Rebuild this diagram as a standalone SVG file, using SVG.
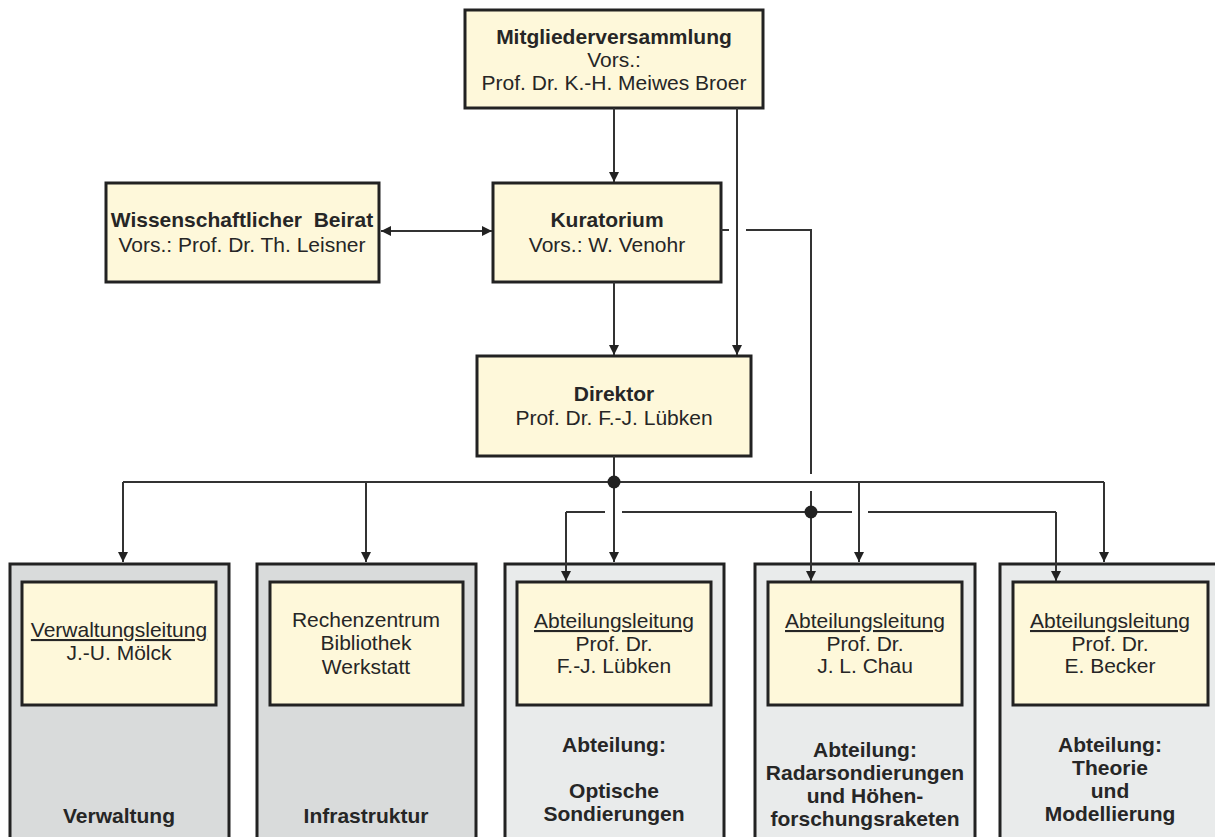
<svg xmlns="http://www.w3.org/2000/svg" width="1215" height="837" viewBox="0 0 1215 837">
<style>
text{font-family:"Liberation Sans",Arial,sans-serif;font-size:21px;fill:#262626;text-anchor:middle}
.b{font-weight:bold}
.u{text-decoration:underline}
.box{fill:#fef8da;stroke:#222;stroke-width:3}
.og{fill:#d9dbdb;stroke:#222;stroke-width:3}
.ol{fill:#e9ebeb;stroke:#222;stroke-width:3}
.c{fill:none;stroke:#333;stroke-width:2}
</style>
<defs>
<marker id="ah" markerUnits="userSpaceOnUse" markerWidth="10" markerHeight="10" refX="10" refY="5" orient="auto-start-reverse" viewBox="0 0 10 10">
<path d="M0,0 L10,5 L0,10 z" fill="#222"/>
</marker>
</defs>

<g id="mitglieder">
<rect class="box" x="465" y="10" width="298" height="98"/>
<text x="614" y="44" class="b">Mitgliederversammlung</text>
<text x="614" y="67">Vors.:</text>
<text x="614" y="90">Prof. Dr. K.-H. Meiwes Broer</text>
</g>

<g id="beirat">
<rect class="box" x="106" y="183" width="273" height="99"/>
<text x="242" y="227" class="b" xml:space="preserve">Wissenschaftlicher  Beirat</text>
<text x="242" y="252">Vors.: Prof. Dr. Th. Leisner</text>
</g>

<g id="kuratorium">
<rect class="box" x="493" y="183" width="228" height="99"/>
<text x="607" y="227" class="b">Kuratorium</text>
<text x="607" y="252">Vors.: W. Venohr</text>
</g>

<g id="direktor">
<rect class="box" x="477" y="356" width="274" height="100"/>
<text x="614" y="401" class="b">Direktor</text>
<text x="614" y="425">Prof. Dr. F.-J. Lübken</text>
</g>

<g id="verwaltung">
<rect class="og" x="10" y="564" width="219" height="285"/>
<rect class="box" x="22" y="582" width="194" height="123"/>
<text x="119" y="637" class="u">Verwaltungsleitung</text>
<text x="119" y="660">J.-U. Mölck</text>
<text x="119" y="823" class="b">Verwaltung</text>
</g>

<g id="infrastruktur">
<rect class="og" x="257" y="564" width="219" height="285"/>
<rect class="box" x="270" y="582" width="193" height="123"/>
<text x="366" y="627">Rechenzentrum</text>
<text x="366" y="650">Bibliothek</text>
<text x="366" y="674">Werkstatt</text>
<text x="366" y="823" class="b">Infrastruktur</text>
</g>

<g id="optische">
<rect class="ol" x="505" y="564" width="219" height="285"/>
<rect class="box" x="517" y="582" width="194" height="123"/>
<text x="614" y="628" class="u">Abteilungsleitung</text>
<text x="614" y="651">Prof. Dr.</text>
<text x="614" y="673">F.-J. Lübken</text>
<text x="614" y="752" class="b">Abteilung:</text>
<text x="614" y="798" class="b">Optische</text>
<text x="614" y="821" class="b">Sondierungen</text>
</g>

<g id="radar">
<rect class="ol" x="755" y="564" width="220" height="285"/>
<rect class="box" x="768" y="582" width="194" height="123"/>
<text x="865" y="628" class="u">Abteilungsleitung</text>
<text x="865" y="651">Prof. Dr.</text>
<text x="865" y="673">J. L. Chau</text>
<text x="865" y="757" class="b">Abteilung:</text>
<text x="865" y="780" class="b">Radarsondierungen</text>
<text x="865" y="803" class="b">und Höhen-</text>
<text x="865" y="826" class="b">forschungsraketen</text>
</g>

<g id="theorie">
<rect class="ol" x="1000" y="564" width="222" height="285"/>
<rect class="box" x="1013" y="582" width="195" height="123"/>
<text x="1110" y="628" class="u">Abteilungsleitung</text>
<text x="1110" y="651">Prof. Dr.</text>
<text x="1110" y="673">E. Becker</text>
<text x="1110" y="752" class="b">Abteilung:</text>
<text x="1110" y="775" class="b">Theorie</text>
<text x="1110" y="798" class="b">und</text>
<text x="1110" y="821" class="b">Modellierung</text>
</g>

<g id="connectors">
<path class="c" d="M614,108 V182" marker-end="url(#ah)"/>
<path class="c" d="M737,108 V355" marker-end="url(#ah)"/>
<path class="c" d="M381,231 H492" marker-start="url(#ah)" marker-end="url(#ah)"/>
<path class="c" d="M614,282 V355" marker-end="url(#ah)"/>
<path class="c" d="M721,230 H729 M746,230 H811 V474 M811,491 V512"/>
<path class="c" d="M614,456 V562" marker-end="url(#ah)"/>
<path class="c" d="M123,482 H1104"/>
<path class="c" d="M123,482 V562" marker-end="url(#ah)"/>
<path class="c" d="M366,482 V562" marker-end="url(#ah)"/>
<path class="c" d="M859,482 V562" marker-end="url(#ah)"/>
<path class="c" d="M1104,482 V562" marker-end="url(#ah)"/>
<path class="c" d="M566,512 H605 M622,512 H852 M868,512 H1056"/>
<path class="c" d="M566,512 V581" marker-end="url(#ah)"/>
<path class="c" d="M811,512 V581" marker-end="url(#ah)"/>
<path class="c" d="M1056,512 V581" marker-end="url(#ah)"/>
<circle cx="614" cy="482" r="6.5" fill="#222"/>
<circle cx="811" cy="512" r="6.5" fill="#222"/>
</g>
</svg>
